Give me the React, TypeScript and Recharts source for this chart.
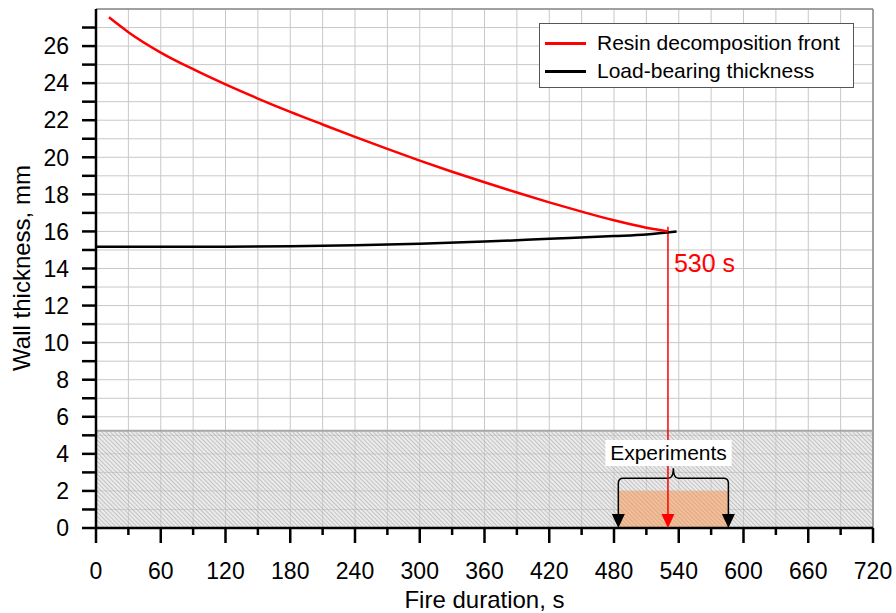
import {
  ComposedChart, Line, Scatter, XAxis, YAxis, CartesianGrid, Legend,
  ReferenceArea, ReferenceLine, ReferenceDot, Label,
} from 'recharts';

const FONT = '"Liberation Sans", Arial, sans-serif';

// Resin decomposition front (red)
const resinTime = [12, 30, 60, 90, 120, 150, 180, 210, 240, 270, 300, 330, 360, 390, 420, 450, 480, 510, 530];
const resinMm = [27.55, 26.75, 25.65, 24.75, 23.93, 23.17, 22.45, 21.77, 21.1, 20.45, 19.82, 19.22, 18.65, 18.1, 17.57, 17.07, 16.6, 16.2, 16.0];

// Load-bearing thickness (black)
const loadTime = [0, 60, 120, 180, 240, 300, 360, 420, 480, 510, 538];
const loadMm = [15.17, 15.17, 15.18, 15.2, 15.25, 15.33, 15.45, 15.6, 15.75, 15.84, 16.0];

const xTicks = [0, 30, 60, 90, 120, 150, 180, 210, 240, 270, 300, 330, 360, 390, 420, 450, 480, 510, 540, 570, 600, 630, 660, 690, 720];
const yTicks = [0, 1, 2, 3, 4, 5, 6, 7, 8, 9, 10, 11, 12, 13, 14, 15, 16, 17, 18, 19, 20, 21, 22, 23, 24, 25, 26, 27, 28];

const criticalTime = 530;
const criticalMm = 16.0;
const experimentRange = [484, 586];
const experimentHeight = 2.0;
const protectedLayer = 5.25;

const resinData = resinTime.map((t, i) => ({ t, v: resinMm[i] }));
const loadData = loadTime.map((t, i) => ({ t, v: loadMm[i] }));
const blackArrows = experimentRange.map((t) => ({ t, v: 0 }));
const redArrow = [{ t: criticalTime, v: 0 }];

const XTick = (props: any) => {
  const { x, y, payload } = props;
  const major = payload.value % 60 === 0;
  return (
    <g>
      <line x1={x} y1={y} x2={x} y2={y + (major ? 15 : 7)} stroke="#000" strokeWidth={2.5} />
      {major && (
        <text x={x} y={y + 51} textAnchor="middle" fontSize={23} fontFamily={FONT} fill="#000">
          {payload.value}
        </text>
      )}
    </g>
  );
};

const YTick = (props: any) => {
  const { x, y, payload } = props;
  if (payload.value >= 28) return <g />;
  const major = payload.value % 2 === 0;
  return (
    <g>
      <line x1={x - 14} y1={y} x2={x} y2={y} stroke="#000" strokeWidth={2.5} />
      {major && (
        <text x={x - 27} y={y} dy="0.36em" textAnchor="end" fontSize={23} fontFamily={FONT} fill="#000">
          {payload.value}
        </text>
      )}
    </g>
  );
};

const Triangle = (color: string) => (props: any) => {
  const { cx, cy } = props;
  return <polygon points={`${cx - 6.5},${cy - 14} ${cx + 6.5},${cy - 14} ${cx},${cy}`} fill={color} />;
};

const Brace = (props: any) => {
  const { x, y, width, height } = props;
  const r = x + width;
  const c = x + width / 2;
  const h = y + 10;
  const b = y + height;
  const d = `M ${x} ${b} L ${x} ${h + 5} Q ${x} ${h} ${x + 5} ${h} L ${c - 5} ${h} Q ${c} ${h} ${c} ${y} Q ${c} ${h} ${c + 5} ${h} L ${r - 5} ${h} Q ${r} ${h} ${r} ${h + 5} L ${r} ${b}`;
  return <path d={d} fill="none" stroke="#000" strokeWidth={1.5} />;
};

const LegendBox = () => (
  <div style={{ border: '1px solid #555', background: '#fff', width: 315, height: 65, fontFamily: FONT, fontSize: 21, color: '#000', boxSizing: 'border-box', padding: '5px 0 0 5px' }}>
    {[['#ff0000', 'Resin decomposition front'], ['#000000', 'Load-bearing thickness']].map(([c, n]) => (
      <div key={n} style={{ display: 'flex', alignItems: 'center', height: 28 }}>
        <div style={{ width: 41, height: 3, background: c, marginRight: 11 }} />
        <span>{n}</span>
      </div>
    ))}
  </div>
);

export default function App() {
  return (
    <div style={{ position: 'absolute', left: 0, top: 0, background: '#fff' }}>
      <ComposedChart width={896} height={613} margin={{ top: 9, right: 23, left: 0, bottom: 0 }}>
        <defs>
          <pattern id="hatch" width="3" height="3" patternUnits="userSpaceOnUse" patternTransform="rotate(-45)">
            <rect width="3" height="3" fill="rgba(215,215,215,0.5)" />
            <line x1="0" y1="0" x2="0" y2="3" stroke="#999999" strokeWidth="1" />
          </pattern>
          <pattern id="hatchLines" width="3" height="3" patternUnits="userSpaceOnUse" patternTransform="rotate(-45)">
            <line x1="0" y1="0" x2="0" y2="3" stroke="#c49a7c" strokeWidth="1" />
          </pattern>
        </defs>
        <CartesianGrid stroke="#c8c8c8" strokeWidth={1} />
        <XAxis
          dataKey="t" type="number" domain={[0, 720]} ticks={xTicks} interval={0}
          tick={<XTick />} tickLine={false} tickSize={0} tickMargin={0} height={85}
          axisLine={{ stroke: '#000', strokeWidth: 2.5 }} allowDataOverflow
        >
          <Label content={(p: any) => (
            <text x={p.viewBox.x + p.viewBox.width / 2} y={608} textAnchor="middle" fontSize={24} fontFamily={FONT} fill="#000">Fire duration, s</text>
          )} />
        </XAxis>
        <YAxis
          dataKey="v" type="number" domain={[0, 28]} ticks={yTicks} interval={0}
          tick={<YTick />} tickLine={false} tickSize={0} tickMargin={0} width={96}
          axisLine={{ stroke: '#000', strokeWidth: 2.5 }} allowDataOverflow
        >
          <Label content={() => (
            <text x={22} y={268} transform="rotate(-90, 22, 268)" textAnchor="middle" dy="0.35em" fontSize={24} fontFamily={FONT} fill="#000">Wall thickness, mm</text>
          )} />
        </YAxis>
        <ReferenceLine y={28} stroke="#8a8a8a" strokeWidth={1.5} />
        <ReferenceLine x={720} stroke="#8a8a8a" strokeWidth={1.5} />
        <ReferenceArea x1={0} x2={720} y1={0} y2={protectedLayer} fill="url(#hatch)" fillOpacity={1} stroke="none" />
        <ReferenceArea x1={experimentRange[0]} x2={experimentRange[1]} y1={0} y2={experimentHeight} fill="#f6b98f" fillOpacity={0.9} stroke="none" />
        <ReferenceArea x1={experimentRange[0]} x2={experimentRange[1]} y1={0} y2={experimentHeight} fill="url(#hatchLines)" fillOpacity={1} stroke="none" />
        <ReferenceLine y={protectedLayer} stroke="#a8a8a8" strokeWidth={2} />
        <ReferenceLine segment={[{ x: criticalTime, y: criticalMm + 0.25 }, { x: criticalTime, y: 4.75 }]} stroke="#ff0000" strokeWidth={1.5} />
        <ReferenceLine segment={[{ x: criticalTime, y: 3.35 }, { x: criticalTime, y: 0.7 }]} stroke="#ff0000" strokeWidth={1.5} />
        <ReferenceArea x1={experimentRange[0]} x2={experimentRange[1]} y1={0.72} y2={3.22} shape={<Brace />} />
        <ReferenceArea
          x1={472} x2={589} y1={3.35} y2={4.75} fill="#fff" fillOpacity={1} stroke="none"
          label={{ value: 'Experiments', position: 'center', fill: '#000', fontSize: 21, fontFamily: FONT }}
        />
        <ReferenceDot
          x={criticalTime} y={14.3} r={0}
          shape={(p: any) => (
            <text x={p.cx + 6} y={p.cy} dy="0.36em" fontSize={25} fontFamily={FONT} fill="#ff0000">530 s</text>
          )}
        />
        <Line data={loadData} dataKey="v" type="monotone" stroke="#000" strokeWidth={2.5} dot={false} isAnimationActive={false} name="Load-bearing thickness" />
        <Line data={resinData} dataKey="v" type="monotone" stroke="#ff0000" strokeWidth={2.5} dot={false} isAnimationActive={false} name="Resin decomposition front" />
        <Scatter data={blackArrows} dataKey="v" shape={Triangle('#000')} isAnimationActive={false} legendType="none" />
        <Scatter data={redArrow} dataKey="v" shape={Triangle('#ff0000')} isAnimationActive={false} legendType="none" />
        <Legend
          content={<LegendBox />} layout="horizontal" verticalAlign="middle" align="center"
          wrapperStyle={{ position: 'absolute', left: 539, top: 23, width: 315, height: 65 }}
        />
      </ComposedChart>
    </div>
  );
}
